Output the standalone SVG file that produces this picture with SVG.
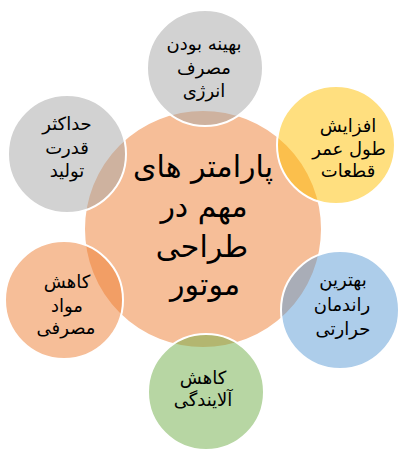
<svg xmlns="http://www.w3.org/2000/svg" width="407" height="449" viewBox="0 0 407 449">
  <style>
    .core { fill: #F6BE98; stroke: #FFFFFF; stroke-width: 2; }
    .sat { stroke: #FFFFFF; stroke-width: 2; fill-opacity: 0.5; }
    .t { font-family: "DejaVu Sans", sans-serif; font-size: 18px; fill: #000000; text-anchor: middle; direction: rtl; }
    .tc { font-family: "DejaVu Sans", sans-serif; font-size: 30px; fill: #000000; text-anchor: middle; direction: rtl; }
  </style>
  <rect width="407" height="449" fill="#FFFFFF"/>
  <g id="connectors"></g>
  <g id="node-center">
    <circle class="core" cx="203" cy="229" r="119"/>
  </g>
  <g id="node-top">
    <circle class="sat" cx="205" cy="68" r="58" fill="#A5A5A5"/>
  </g>
  <g id="node-upper-right">
    <circle class="sat" cx="336" cy="145" r="59" fill="#FFC000"/>
  </g>
  <g id="node-lower-right">
    <circle class="sat" cx="340" cy="310" r="59" fill="#5B9BD5"/>
  </g>
  <g id="node-bottom">
    <circle class="sat" cx="206" cy="392" r="58" fill="#70AD47"/>
  </g>
  <g id="node-lower-left">
    <circle class="sat" cx="64" cy="300" r="59" fill="#ED7D31"/>
  </g>
  <g id="node-upper-left">
    <circle class="sat" cx="67" cy="154" r="59" fill="#A5A5A5"/>
  </g>
  <g id="labels">
    <text class="tc" x="203" y="177">پارامتر  های</text>
    <text class="tc" x="204" y="217">مهم در</text>
    <text class="tc" x="202" y="257">طراحی</text>
    <text class="tc" x="205" y="295">موتور</text>

    <text class="t" x="204" y="50">بهینه بودن</text>
    <text class="t" x="204" y="74">مصرف</text>
    <text class="t" x="204" y="97">انرژی</text>

    <text class="t" x="348" y="132">افزایش</text>
    <text class="t" x="349" y="155">طول عمر</text>
    <text class="t" x="348" y="177">قطعات</text>

    <text class="t" x="343" y="286">بهترین</text>
    <text class="t" x="342" y="311">راندمان</text>
    <text class="t" x="343" y="335">حرارتی</text>

    <text class="t" x="203" y="384">کاهش</text>
    <text class="t" x="203" y="406">آلایندگی</text>

    <text class="t" x="67" y="288">کاهش</text>
    <text class="t" x="67" y="312">مواد</text>
    <text class="t" x="66" y="334">مصرفی</text>

    <text class="t" x="67" y="130">حداکثر</text>
    <text class="t" x="67" y="154">قدرت</text>
    <text class="t" x="67" y="177">تولید</text>
  </g>
</svg>
